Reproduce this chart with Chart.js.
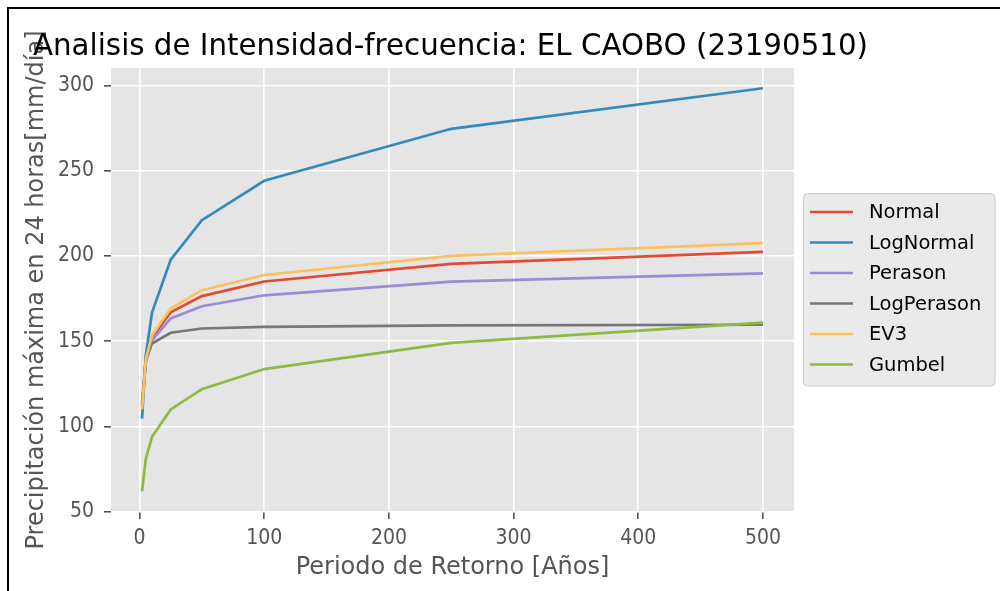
<!DOCTYPE html>
<html>
<head>
<meta charset="utf-8">
<script src="https://cdn.jsdelivr.net/npm/chart.js@4.4.0/dist/chart.umd.min.js"></script>
<style>
  html, body { margin: 0; padding: 0; background: #ffffff; }
  canvas { display: block; }
</style>
</head>
<body>
<canvas id="myChart" width="1000" height="591"></canvas>
<script>
const periodos = [2, 5, 10, 25, 50, 100, 250, 500]
const normal = [111.7, 138.2, 152.1, 166.9, 176.4, 185.0, 195.3, 202.4]
const logNormal = [104.5, 141.5, 166.8, 197.8, 221.0, 244.1, 274.6, 298.4]
const perason = [112.0, 137.5, 150.5, 163.3, 170.5, 176.9, 184.9, 189.8]
const logPerason = [113.0, 139.0, 148.6, 154.9, 157.4, 158.3, 159.2, 159.6]
const ev3 = [110.0, 139.0, 153.5, 169.1, 179.9, 188.8, 200.0, 207.5]
const gumbel = [61.8, 80.8, 93.8, 109.9, 121.8, 133.6, 149.0, 160.8]

const xTicks = [0, 100, 200, 300, 400, 500]
const yTicks = [50, 100, 150, 200, 250, 300]

const titulo = 'Analisis de Intensidad-frecuencia: EL CAOBO (23190510)'
const xTitulo = 'Periodo de Retorno [Años]'
const yTitulo = 'Precipitación máxima en 24 horas[mm/día]'

const series = [
  { label: 'Normal', values: normal, color: '#E24A33' },
  { label: 'LogNormal', values: logNormal, color: '#348ABD' },
  { label: 'Perason', values: perason, color: '#988ED5' },
  { label: 'LogPerason', values: logPerason, color: '#777777' },
  { label: 'EV3', values: ev3, color: '#FBC15E' },
  { label: 'Gumbel', values: gumbel, color: '#8EBA42' }
]

const FONT = '"DejaVu Sans", "Liberation Sans", sans-serif'
const FONT_C = '"DejaVu Sans Condensed", "DejaVu Sans", sans-serif'

// fondo gris del area + textos + leyenda, estilo ggplot
const ggplotDecor = {
  id: 'ggplotDecor',
  beforeDraw(chart) {
    const { ctx, chartArea } = chart
    ctx.save()
    ctx.fillStyle = '#E5E5E5'
    ctx.fillRect(chartArea.left, chartArea.top, chartArea.right - chartArea.left, chartArea.bottom - chartArea.top)
    ctx.restore()
  },
  afterDraw(chart) {
    const { ctx, chartArea } = chart
    const cx = (chartArea.left + chartArea.right) / 2
    const cy = (chartArea.top + chartArea.bottom) / 2

    // marco negro
    ctx.save()
    ctx.strokeStyle = '#000000'
    ctx.lineWidth = 2
    ctx.beginPath()
    ctx.moveTo(8, 591)
    ctx.lineTo(8, 8)
    ctx.lineTo(1000, 8)
    ctx.stroke()
    ctx.restore()

    // titulo del eje y
    ctx.save()
    ctx.fillStyle = '#555555'
    ctx.font = '24px ' + FONT
    ctx.translate(43, cy)
    ctx.rotate(-Math.PI / 2)
    ctx.textAlign = 'center'
    ctx.textBaseline = 'alphabetic'
    ctx.fillText(yTitulo, 0, 0)
    ctx.restore()

    // titulo del eje x
    ctx.save()
    ctx.fillStyle = '#555555'
    ctx.font = '24px ' + FONT
    ctx.textAlign = 'center'
    ctx.textBaseline = 'alphabetic'
    ctx.fillText(xTitulo, cx, 574)
    ctx.restore()

    // titulo
    ctx.save()
    ctx.fillStyle = '#000000'
    ctx.font = '31px ' + FONT
    const w = ctx.measureText(titulo).width
    ctx.translate(450.5, 55)
    ctx.scale(835 / w, 1)
    ctx.textAlign = 'center'
    ctx.textBaseline = 'alphabetic'
    ctx.fillText(titulo, 0, 0)
    ctx.restore()

    // leyenda
    ctx.save()
    const bx = 803.5, by = 193.5, bw = 191.5, bh = 192.5, r = 4
    ctx.beginPath()
    ctx.moveTo(bx + r, by)
    ctx.arcTo(bx + bw, by, bx + bw, by + bh, r)
    ctx.arcTo(bx + bw, by + bh, bx, by + bh, r)
    ctx.arcTo(bx, by + bh, bx, by, r)
    ctx.arcTo(bx, by, bx + bw, by, r)
    ctx.closePath()
    ctx.fillStyle = '#EAEAEA'
    ctx.fill()
    ctx.strokeStyle = '#CCCCCC'
    ctx.lineWidth = 1
    ctx.stroke()
    ctx.font = '19.5px ' + FONT
    ctx.textBaseline = 'middle'
    ctx.textAlign = 'left'
    series.forEach((s, i) => {
      const y = 212 + i * 30.5
      ctx.strokeStyle = s.color
      ctx.lineWidth = 2.7
      ctx.beginPath()
      ctx.moveTo(810, y)
      ctx.lineTo(853, y)
      ctx.stroke()
      ctx.fillStyle = '#000000'
      ctx.fillText(s.label, 869, y + 1)
    })
    ctx.restore()
  }
}

const data = {
  datasets: series.map((s, i) => ({
    label: s.label,
    data: periodos.map((p, j) => ({ x: p, y: s.values[j] })),
    borderColor: s.color,
    backgroundColor: s.color,
    borderWidth: 2.7,
    pointRadius: 0,
    tension: 0,
    fill: false,
    order: series.length - i
  }))
}

const config = {
  type: 'line',
  data: data,
  plugins: [ggplotDecor],
  options: {
    responsive: false,
    animation: false,
    layout: { padding: { left: 0, top: 68, right: 206, bottom: 0 } },
    plugins: {
      legend: { display: false },
      title: { display: false },
      tooltip: { enabled: false }
    },
    scales: {
      x: {
        type: 'linear',
        min: -22.9,
        max: 524.9,
        afterBuildTicks: s => { s.ticks = xTicks.map(v => ({ value: v })) },
        afterFit: s => { s.height = 79 },
        grid: { color: '#FFFFFF', lineWidth: 1.6, tickColor: '#555555', tickLength: 7 },
        border: { display: false },
        ticks: { color: '#555555', padding: 7, maxRotation: 0, font: { family: FONT_C, size: 21 } }
      },
      y: {
        type: 'linear',
        min: 49.7,
        max: 310.3,
        afterBuildTicks: s => { s.ticks = yTicks.map(v => ({ value: v })) },
        afterFit: s => { s.width = 111 },
        grid: { color: '#FFFFFF', lineWidth: 1.6, tickColor: '#555555', tickLength: 7 },
        border: { display: false },
        ticks: { color: '#555555', padding: 10, font: { family: FONT_C, size: 21 } }
      }
    }
  }
}

new Chart(document.getElementById('myChart'), config)
</script>
</body>
</html>
